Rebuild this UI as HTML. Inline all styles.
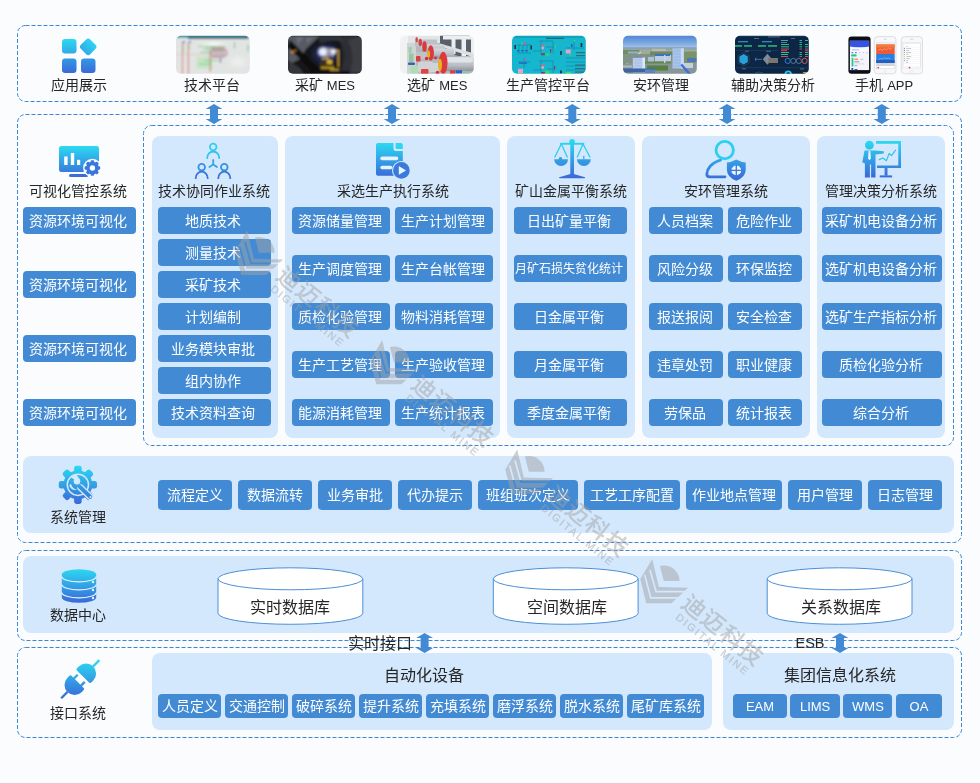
<!DOCTYPE html>
<html lang="zh-CN">
<head>
<meta charset="utf-8">
<title>系统架构</title>
<style>
html,body{margin:0;padding:0;overflow:hidden}
html{width:980px;height:783px}
body{width:980px;height:783px;overflow:hidden;background:#fafcfd;font-family:"Liberation Sans",sans-serif;position:relative}
.p{position:absolute;background:#d4e8fd}
.b{position:absolute;background:#428bd4;color:#fff;font-size:14px;text-align:center;border-radius:4px;white-space:nowrap;overflow:hidden}
.t{position:absolute;color:#262626;font-size:14px;text-align:center;white-space:nowrap}
.l{font-size:13px}
svg.ov{position:absolute;left:0;top:0}
.tx{position:absolute;left:0;top:0;width:980px;height:783px;opacity:.999;overflow:hidden}
</style>
</head>
<body>
<div class="p" style="left:152px;top:136px;width:126px;height:302px;border-radius:8px"></div>
<div class="p" style="left:285px;top:136px;width:215px;height:302px;border-radius:8px"></div>
<div class="p" style="left:507px;top:136px;width:128px;height:302px;border-radius:8px"></div>
<div class="p" style="left:642px;top:136px;width:168px;height:302px;border-radius:8px"></div>
<div class="p" style="left:817px;top:136px;width:128px;height:302px;border-radius:8px"></div>
<div class="p" style="left:23px;top:456px;width:931px;height:77px;border-radius:8px"></div>
<div class="p" style="left:23px;top:556px;width:931px;height:77px;border-radius:8px"></div>
<div class="p" style="left:152px;top:653px;width:560px;height:77px;border-radius:8px"></div>
<div class="p" style="left:723px;top:653px;width:231px;height:77px;border-radius:8px"></div>
<svg class="ov" width="980" height="783" viewBox="0 0 980 783">
<defs>
<linearGradient id="g" x1="0" y1="0" x2="0" y2="1"><stop offset="0" stop-color="#2bd8f2"/><stop offset="1" stop-color="#3a68d8"/></linearGradient>
<linearGradient id="gu" gradientUnits="userSpaceOnUse" x1="0" y1="140" x2="0" y2="180"><stop offset="0" stop-color="#2bd8f2"/><stop offset="1" stop-color="#3a68d8"/></linearGradient>
<linearGradient id="gmon" gradientUnits="userSpaceOnUse" x1="0" y1="146" x2="0" y2="178"><stop offset="0" stop-color="#2bdaf2"/><stop offset="1" stop-color="#3a66d8"/></linearGradient>
<linearGradient id="gdoc" gradientUnits="userSpaceOnUse" x1="0" y1="143" x2="0" y2="178"><stop offset="0" stop-color="#2bdaf2"/><stop offset="1" stop-color="#3a66d8"/></linearGradient>
<linearGradient id="gsc" gradientUnits="userSpaceOnUse" x1="0" y1="140" x2="0" y2="179"><stop offset="0" stop-color="#2bdaf2"/><stop offset="1" stop-color="#3a66d8"/></linearGradient>
<linearGradient id="gps" gradientUnits="userSpaceOnUse" x1="0" y1="141" x2="0" y2="181"><stop offset="0" stop-color="#2bdaf2"/><stop offset="1" stop-color="#3a66d8"/></linearGradient>
<linearGradient id="gpr" gradientUnits="userSpaceOnUse" x1="0" y1="141" x2="0" y2="178"><stop offset="0" stop-color="#2bdaf2"/><stop offset="1" stop-color="#3a66d8"/></linearGradient>
<linearGradient id="gapp" gradientUnits="userSpaceOnUse" x1="0" y1="39" x2="0" y2="74"><stop offset="0" stop-color="#2bdaf2"/><stop offset="1" stop-color="#3a66d8"/></linearGradient>
<linearGradient id="gppl" gradientUnits="userSpaceOnUse" x1="0" y1="143" x2="0" y2="179"><stop offset="0" stop-color="#2bdaf2"/><stop offset="1" stop-color="#3a66d8"/></linearGradient>
<clipPath id="c1"><rect x="176" y="35.800" width="73.800" height="38" rx="5"/></clipPath>
<clipPath id="c2"><rect x="288" y="35.800" width="73.800" height="38" rx="5"/></clipPath>
<clipPath id="c3"><rect x="400" y="35.800" width="73.800" height="38" rx="5"/></clipPath>
<clipPath id="c4"><rect x="512" y="35.800" width="73.800" height="38" rx="5"/></clipPath>
<clipPath id="c5"><rect x="623" y="35.800" width="73.800" height="38" rx="5"/></clipPath>
<clipPath id="c6"><rect x="735" y="35.800" width="73.800" height="38" rx="5"/></clipPath>
<radialGradient id="lamp" cx="0.5" cy="0.5" r="0.5"><stop offset="0" stop-color="#ffffff"/><stop offset="0.25" stop-color="#bcd4ff"/><stop offset="0.6" stop-color="#3a4a78"/><stop offset="1" stop-color="#1a1c24" stop-opacity="0"/></radialGradient>
<linearGradient id="sky" x1="0" y1="0" x2="0" y2="1"><stop offset="0" stop-color="#477fd2"/><stop offset="0.6" stop-color="#78a4e0"/><stop offset="1" stop-color="#a4c4ec"/></linearGradient>
</defs>

<!-- dashed boxes -->
<g fill="none" stroke="#3f87d6" stroke-width="1" stroke-dasharray="4 2">
<rect x="17.5" y="25.5" width="944" height="76" rx="8"/>
<rect x="17.5" y="114.5" width="944" height="428" rx="8"/>
<rect x="143.5" y="125.5" width="810" height="320" rx="8"/>
<rect x="17.5" y="550.5" width="944" height="90" rx="8"/>
<rect x="17.5" y="647.5" width="944" height="90" rx="8"/>
</g>

<!-- arrows -->
<g fill="#428bd4">
<path id="ar" d="M214 104.100 l8.400 4.800 h-4.400 v10.100 h4.400 l-8.400 4.900 l-8.400 -4.900 h4.400 v-10.100 h-4.400 z"/>
<use href="#ar" x="178"/>
<use href="#ar" x="358.300"/>
<use href="#ar" x="513"/>
<use href="#ar" x="667.800"/>
<use href="#ar" x="210.6" y="529"/>
<use href="#ar" x="626" y="529"/>
</g>

<!-- cylinders -->
<g fill="#fff" stroke="#4a8fd8" stroke-width="1">
<path id="cy" d="M218 578.8 a72.4 11 0 0 1 144.8 0 v34.5 a72.4 11 0 0 1 -144.8 0 z"/>
<path id="cz" d="M218 578.8 a72.4 11 0 0 0 144.8 0" fill="none"/>
<use href="#cy" x="275.3"/><use href="#cz" x="275.3"/>
<use href="#cy" x="549.2"/><use href="#cz" x="549.2"/>
</g>

<!-- icon: app grid -->
<g fill="url(#gapp)">
<rect x="62" y="39" width="14.5" height="14.5" rx="3.2"/>
<rect x="81.600" y="40.200" width="13.200" height="13.200" rx="2.800" transform="rotate(45 88.2 46.8)"/>
<rect x="62" y="58.5" width="14.5" height="14.5" rx="3.2"/>
<rect x="81" y="58.5" width="14.5" height="14.5" rx="3.2"/>
</g>

<!-- icon: monitor -->
<g>
<rect x="59" y="146" width="40" height="26" rx="2.5" fill="url(#gmon)"/>
<rect x="69" y="174" width="19" height="3" rx="1.5" fill="#3a6cdc"/>
<rect x="64.2" y="156.5" width="3.4" height="8.5" fill="#fff"/>
<rect x="70.8" y="153" width="3.4" height="12" fill="#fff"/>
<rect x="77" y="159.8" width="3.2" height="5.2" fill="#fff"/>
<circle cx="92.4" cy="168" r="9.3" fill="#fafcfd"/>
<g fill="#3a76dc">
<circle cx="92.4" cy="168" r="6.300"/>
<g id="gt"><rect x="90.600" y="160.200" width="3.600" height="15.600" rx="1.2"/></g>
<use href="#gt" transform="rotate(45 92.4 168)"/>
<use href="#gt" transform="rotate(90 92.4 168)"/>
<use href="#gt" transform="rotate(135 92.4 168)"/>
</g>
<circle cx="92.4" cy="168" r="2.700" fill="#fafcfd"/>
</g>

<!-- icon: people -->
<g fill="none" stroke-width="1.8" stroke-linecap="round">
<circle cx="213.2" cy="147" r="3.3" stroke="#2fd0ef"/>
<path d="M207.2 158 a6 6.5 0 0 1 12 0" stroke="#2fc6ee"/>
<path d="M213.2 160 v4.4 l-3.8 2.7 M213.2 164.4 l3.8 2.7" stroke="#30a8e8"/>
<circle cx="201.7" cy="167.2" r="3.3" stroke="#3592e2"/>
<path d="M195.7 178.2 a6 6.5 0 0 1 12 0" stroke="#3a74dc"/>
<circle cx="224.3" cy="167.2" r="3.3" stroke="#3592e2"/>
<path d="M218.3 178.2 a6 6.5 0 0 1 12 0" stroke="#3a74dc"/>
</g>

<!-- icon: doc+play -->
<g>
<path d="M378 143 h15.5 v5.5 a2.5 2.5 0 0 0 2.5 2.5 h6.8 v22.7 a2 2 0 0 1 -2 2 h-22.8 a2 2 0 0 1 -2 -2 v-28.7 a2 2 0 0 1 2 -2 z" fill="url(#gdoc)"/>
<path d="M395.6 143 h5.2 a2 2 0 0 1 2 2 v4 h-5.7 a1.5 1.5 0 0 1 -1.5 -1.5 z" fill="#2dd6f2"/>
<rect x="380.3" y="156.6" width="18" height="3.6" rx="1.8" fill="#e6f2fe"/>
<rect x="380.3" y="165.8" width="12" height="3.5" rx="1.75" fill="#e6f2fe"/>
<circle cx="401.4" cy="170.4" r="9.4" fill="#d4e8fd"/>
<circle cx="401.4" cy="170.4" r="8.3" fill="#3a7adc"/>
<path d="M398.8 166 v8.8 l7.2 -4.4 z" fill="#eaf3ff"/>
</g>

<!-- icon: scales -->
<g fill="url(#gsc)" stroke="none">
<rect x="570.3" y="140.5" width="3.7" height="34.5"/>
<circle cx="572.1" cy="141.8" r="2.8"/>
<rect x="560.2" y="142.8" width="24" height="1.9"/>
<path d="M572.1 173.5 L585 177.2 q0.6 1 -0.6 1 h-24.6 q-1.2 0 -0.6 -1 z"/>
<path d="M554.2 159.2 h13.8 a6.9 6.9 0 0 1 -13.8 0 z"/>
<path d="M577 159.2 h13.8 a6.9 6.9 0 0 1 -13.8 0 z"/>
<circle cx="560.5" cy="158.8" r="1.8"/>
<rect x="583.2" y="155.8" width="1.2" height="3.4"/>
</g>
<g fill="none" stroke="#2ccdf0" stroke-width="1.3" stroke-linecap="round">
<path d="M561.3 144 L554.8 157 M561.3 144 L567.3 157"/>
<path d="M583 144 L577.3 157 M583 144 L589.9 157"/>
</g>

<!-- icon: person + shield -->
<g>
<circle cx="724.7" cy="150.1" r="8.7" fill="none" stroke="#2ccff0" stroke-width="2.8"/>
<path d="M720.5 160.2 C711 163 707 169 706.8 174 q0 2.8 2.8 2.8 H725" fill="none" stroke="url(#gps)" stroke-width="2.8" stroke-linecap="round"/>
<path d="M736.3 159.6 q4.6 2.6 9.4 2.9 v7.5 q0 7 -9.4 10.8 q-9.4 -3.8 -9.4 -10.8 v-7.5 q4.8 -0.3 9.4 -2.9 z" fill="url(#gps)"/>
<circle cx="736.3" cy="170.4" r="4.9" fill="#eef5ff"/>
<path d="M736.3 165 v10.8 M730.9 170.4 h10.8" stroke="#3a76dc" stroke-width="1.3"/>
</g>

<!-- icon: presenter -->
<g fill="url(#gpr)">
<circle cx="869.4" cy="145.2" r="4.4"/>
<path d="M864.5 150.6 h11 l8.3 0.6 v2.2 l-8.3 1.2 v22.8 h-4.4 v-13 h-1.2 v13 h-5 v-14 l-2.6 -1.2 z"/>
<path d="M876 141 h25 v27 h-24 v-2.6 h21.3 v-21.7 h-22.3 z"/>
<rect x="884.6" y="168" width="2.9" height="7.6"/>
<rect x="879.7" y="175.4" width="12.4" height="2"/>
</g>
<path d="M868.6 151 h1.7 l0.6 7.6 l-1.4 1.6 l-1.4 -1.6 z" fill="#eaf4ff"/>
<path d="M879.3 159.6 L882.8 158 L886.4 160.7 L889.2 153.4 L891.5 155.7 L895.6 150.2" fill="none" stroke="#2cc4ee" stroke-width="1.2" stroke-linejoin="round" stroke-linecap="round"/>

<defs><linearGradient id="gg" gradientUnits="userSpaceOnUse" x1="0" y1="466" x2="0" y2="504"><stop offset="0" stop-color="#2bd8f2"/><stop offset="1" stop-color="#3a68d8"/></linearGradient>
<linearGradient id="gd" gradientUnits="userSpaceOnUse" x1="0" y1="569" x2="0" y2="603"><stop offset="0" stop-color="#2bd8f2"/><stop offset="1" stop-color="#3a68d8"/></linearGradient>
<linearGradient id="gp" gradientUnits="userSpaceOnUse" x1="0" y1="661" x2="0" y2="698"><stop offset="0" stop-color="#2bd8f2"/><stop offset="1" stop-color="#3a68d8"/></linearGradient>
</defs>
<!-- icon: gear + wrench -->
<g>
<circle cx="77.9" cy="484.8" r="14.4" fill="url(#gg)"/>
<g fill="url(#gg)" stroke="url(#gg)" stroke-width="4.8" stroke-linejoin="round"><path d="M61.20 483.40 L94.60 483.40 L94.60 486.20 L61.20 486.20 Z"/><path d="M67.08 472.00 L90.70 495.62 L88.72 497.60 L65.10 473.98 Z"/><path d="M79.30 468.10 L79.30 501.50 L76.50 501.50 L76.50 468.10 Z"/><path d="M90.70 473.98 L67.08 497.60 L65.10 495.62 L88.72 472.00 Z"/></g>
<circle cx="77.9" cy="484.8" r="10.6" fill="none" stroke="#d4e8fd" stroke-width="1.5"/>
<path d="M80.500 487.500 L90.300 496.900" stroke="#d4e8fd" stroke-width="6.600" stroke-linecap="round"/>
<path d="M79 486 L90.300 496.900" stroke="url(#gg)" stroke-width="3.900" stroke-linecap="round"/>
<circle cx="90.500" cy="497.100" r="1.050" fill="#d4e8fd"/>
<path d="M71 483.800 q1.200 5.600 6.600 6 q-6.500 1.500 -8.400 -4.500 z" fill="#d4e8fd"/>
<circle cx="77" cy="481.300" r="3.300" fill="#d4e8fd"/>
<path d="M74.300 479.400 L70.500 477 L76.500 474.400 L79.300 478.900 Z" fill="#d4e8fd"/>
</g>

<!-- icon: database -->
<g>
<path d="M61.8 574.5 a17.2 5.3 0 0 1 34.4 0 v23 a17.2 5.3 0 0 1 -34.4 0 z" fill="url(#gd)"/>
<g fill="none" stroke="#e4f1ff" stroke-width="1.2">
<path d="M61.8 576.5 a17.2 5.3 0 0 0 34.4 0"/>
<path d="M61.8 584.5 a17.2 5.3 0 0 0 34.4 0"/>
<path d="M61.8 592.5 a17.2 5.3 0 0 0 34.4 0"/>
</g>
<circle cx="93" cy="582" r="1.2" fill="#eaf4ff"/>
<circle cx="93" cy="590" r="1.2" fill="#eaf4ff"/>
<circle cx="93" cy="598" r="1.2" fill="#eaf4ff"/>
</g>

<!-- icon: plug -->
<g fill="url(#gp)">
<path d="M76.91 670.43 Q75.85 669.37 76.91 668.31 L79.03 666.19 A10.1 10.1 0 0 1 93.31 680.47 L91.19 682.59 Q90.13 683.65 89.07 682.59 Z"/>
<path d="M92.21 665.66 L98.58 659.29 L100.21 660.92 L93.84 667.29 Z"/>
<path d="M71.53 675.81 Q70.47 674.75 69.41 675.81 L67.29 677.93 A10.1 10.1 0 0 0 81.57 692.21 L83.69 690.09 Q84.75 689.03 83.69 687.97 Z"/>
<path d="M60.39 697.48 L66.76 691.11 L68.39 692.74 L62.02 699.11 Z"/>
<path d="M73.09 677.64 L76.84 673.90 L78.53 675.59 L74.78 679.34 Z"/>
<path d="M80.16 684.72 L83.91 680.97 L85.60 682.66 L81.86 686.41 Z"/>
</g>

<!-- thumbnails -->
<defs>
<filter id="bl" x="-5%" y="-5%" width="110%" height="110%"><feGaussianBlur stdDeviation="0.6"/></filter>
<filter id="bl9" x="-5%" y="-5%" width="110%" height="110%"><feGaussianBlur stdDeviation="0.9"/></filter>
<filter id="bl2" x="-5%" y="-5%" width="110%" height="110%"><feGaussianBlur stdDeviation="1.1"/></filter>
<radialGradient id="glare" cx="0.5" cy="0.5" r="0.5"><stop offset="0" stop-color="#ffffff" stop-opacity=".95"/><stop offset="1" stop-color="#ffffff" stop-opacity="0"/></radialGradient>
<radialGradient id="glow" cx="0.5" cy="0.5" r="0.5"><stop offset="0" stop-color="#5a68a8"/><stop offset="0.5" stop-color="#20264a"/><stop offset="1" stop-color="#15161a" stop-opacity="0"/></radialGradient>
<linearGradient id="mill" x1="0" y1="0" x2="0" y2="1"><stop offset="0" stop-color="#d6d9dd"/><stop offset="0.6" stop-color="#b9bdc3"/><stop offset="1" stop-color="#8d9298"/></linearGradient>
</defs>
<!-- thumb1 -->
<g clip-path="url(#c1)"><g filter="url(#bl9)">
<rect x="174" y="34" width="78" height="42" fill="#e1e4e2"/>
<ellipse cx="214" cy="45" rx="14" ry="4.5" fill="url(#glare)"/>
<ellipse cx="238" cy="62" rx="12" ry="8" fill="url(#glare)" opacity=".5"/>
<rect x="196.500" y="57" width="16" height="11.500" fill="#c4e2c2" opacity=".9"/>
<rect x="206" y="45.500" width="20" height="12" fill="#d6ddd8"/>
<path d="M182.500 42 V75 M188.400 42 V75" stroke="#df7070" stroke-width="1.100"/>
<path d="M210.300 50 V72" stroke="#d06058" stroke-width="1"/>
<path d="M183 43 v10 M189 44 v6" stroke="#78c880" stroke-width=".7"/>
<path d="M198 46.500 h26 M203 49 h22 M200 52.500 h25 M204 60.500 h18 M199 64 h12" stroke="#62cc7a" stroke-width=".8"/>
<path d="M211 48 h14 M211 51 h15 M210 54.500 h16 M212 57.500 h12" stroke="#e04c5e" stroke-width=".8"/>
<path d="M212 49.700 h12 M212 56 h13" stroke="#5a8ad8" stroke-width=".7"/>
<path d="M226 49 q2.500 3.500 0 7.500" stroke="#c050b0" stroke-width=".8" fill="none"/>
<path d="M220.500 58 v5" stroke="#7a50c0" stroke-width="1"/>
<path d="M234.500 42 v6.500 M248 45 v6.500" stroke="#6cc47a" stroke-width="1"/>
<path d="M176 54.500 h30" stroke="#e0b0a0" stroke-width=".5"/>
<rect x="182.800" y="41" width="2" height="2" fill="#4a80d8"/><rect x="189" y="41" width="2" height="2" fill="#4a80d8"/>
<rect x="174" y="34" width="78" height="3.600" fill="#2a8aa0"/>
<rect x="188" y="37.300" width="60" height="1.700" fill="#2a3034" opacity=".8"/>
</g></g>
<!-- thumb2 -->
<g clip-path="url(#c2)"><g filter="url(#bl9)">
<rect x="286" y="34" width="78" height="42" fill="#141518"/>
<path d="M288 36 h32 l-14 13 l-6 10 l-12 6 z" fill="#565a62"/>
<path d="M296 37 l8 0 l-6 8 z M306 38 l8 -1 l-7 7 z" fill="#6a6e76"/>
<path d="M288 60 l12 8 l4 6 h-16 z" fill="#34363b"/>
<path d="M290 40 l34 34 h-9 l-27 -27 z" fill="#08090b"/>
<path d="M338 36 h24 v38 h-22 q6 -20 -2 -38 z" fill="#2e2f34"/>
<path d="M348 40 q8 16 2 32 h12 v-36 z" fill="#3a3c42"/>
<path d="M318 36 h22 l4 6 q-12 -4 -24 2 z" fill="#33353a"/>
<ellipse cx="326" cy="54" rx="21" ry="15" fill="url(#glow)"/>
<ellipse cx="327" cy="52" rx="9" ry="4.500" fill="#aebcf0" opacity=".55"/>
<rect x="320" y="62" width="14" height="8" fill="#3a3418"/>
<rect x="327" y="60" width="5" height="4" fill="#d8b02a"/>
<rect x="322" y="58" width="7" height="1.400" fill="#d9a520"/>
<rect x="321" y="66.800" width="13" height="1.800" fill="#c89a20"/>
<rect x="330" y="69" width="9" height="1.600" fill="#c8a030"/>
<path d="M326.500 50.700 H338.300 V67" fill="none" stroke="#dba828" stroke-width="1.300"/>
<path d="M327 51 V58 M332.500 52 V57" stroke="#c89820" stroke-width="1"/>
<circle cx="322.900" cy="51.700" r="3.200" fill="#ffffff"/>
<circle cx="322.900" cy="51.700" r="5" fill="#d4e2ff" opacity=".5"/>
<circle cx="333.300" cy="51.700" r="2.100" fill="#f4f8ff"/>
<circle cx="333.300" cy="51.700" r="3.400" fill="#d4e2ff" opacity=".4"/>
<circle cx="292.500" cy="52" r="1.400" fill="#e09030"/><circle cx="295.500" cy="50.600" r="1" fill="#d88428"/>
<rect x="310" y="71" width="40" height="4" fill="#101114"/>
</g></g>
<!-- thumb3 -->
<g clip-path="url(#c3)"><g filter="url(#bl)">
<rect x="398" y="34" width="78" height="42" fill="#b4b9bd"/>
<rect x="398" y="34" width="11" height="42" fill="#f0f2f2"/>
<rect x="408" y="34" width="34" height="9" fill="#e2e5e5"/>
<rect x="407" y="43" width="9" height="31" fill="#cfd4d4"/>
<rect x="440" y="34" width="36" height="22" fill="#59606a"/>
<path d="M443 36 h33 v3.500 h-33 z M451.500 36 h4 v18 h-4 z M461.500 36 h4.500 v20 h-4.500 z M471 36 h5 v22 h-5 z" fill="#eceef0"/>
<path d="M440 43.500 l36 10.500 v4 l-36 -11.500 z" fill="#dde0e3"/>
<path d="M440 49 l34 13 h-34 z" fill="#9aa0a6"/>
<rect x="415" y="39.500" width="22" height="7" fill="#bcc1c6"/>
<rect x="421" y="44.500" width="24" height="8.500" rx="2" fill="url(#mill)"/>
<rect x="431" y="48.500" width="23" height="10" rx="2" fill="url(#mill)"/>
<rect x="416" y="52" width="12" height="7" fill="#bfc3c8"/>
<rect x="418" y="61.500" width="15" height="11" rx="2" fill="#cfd2d6"/>
<rect x="431" y="63" width="8" height="9" fill="#d0d3d7"/>
<rect x="444" y="56.800" width="30.500" height="14.500" rx="4" fill="url(#mill)"/>
<rect x="446" y="57.500" width="27" height="5" rx="2.500" fill="#e6e8ec" opacity=".8"/>
<ellipse cx="443.200" cy="63" rx="4.300" ry="11.200" fill="#dc383c"/>
<ellipse cx="440" cy="65" rx="2" ry="6.200" fill="#e4b420"/>
<ellipse cx="430.800" cy="53" rx="3.100" ry="7.700" fill="#dc383c"/>
<ellipse cx="428.700" cy="54" rx="1.400" ry="3.800" fill="#e2b220"/>
<ellipse cx="424.500" cy="46.500" rx="2.300" ry="5.200" fill="#d83a3e"/>
<ellipse cx="420.300" cy="42.500" rx="1.700" ry="3.700" fill="#d44246"/>
<ellipse cx="416.700" cy="39.600" rx="1.300" ry="2.700" fill="#d04c50"/>
<rect x="416" y="56" width="4.500" height="5.500" rx="1" fill="#dc3e42"/>
<circle cx="426.600" cy="58.500" r="1.700" fill="#d82a32"/>
<circle cx="435.500" cy="58" r="1.400" fill="#d82a32"/>
<rect x="421" y="69" width="7.500" height="5" rx="1" fill="#e2423c"/>
<circle cx="437.500" cy="72.500" r="1.800" fill="#dc2e36"/>
<rect x="450" y="70.300" width="5" height="3.500" fill="#de3c3c"/>
<rect x="455.500" y="70.300" width="6.500" height="3.200" fill="#2c60c8"/>
<rect x="463" y="70.800" width="4" height="2.600" fill="#8ac8a0"/>
<rect x="408.500" y="47" width="3.200" height="6" fill="#a4cab0"/>
<rect x="409" y="53.500" width="4.500" height="8.500" fill="#98c6a2"/>
<rect x="410.500" y="65.500" width="7.500" height="8.500" fill="#b0dab8"/>
<rect x="408" y="62.500" width="7" height="2.600" rx="1" fill="#3a5eb0"/>
</g></g>
<!-- thumb4 -->
<g clip-path="url(#c4)"><g filter="url(#bl)">
<rect x="510" y="34" width="78" height="42" fill="#12b6ce"/>
<rect x="510" y="34" width="78" height="4" fill="#10a4bc"/>
<g fill="none" stroke="#1a7f9c" stroke-width=".7" opacity=".85">
<path d="M517 45 h14 M519 45 v8 M523 45 v8 M527 45 v8 M517 53 h14"/>
<path d="M539 41 h14 v12 M541 41 v14 M546 47 h8 M533 51 h8"/>
<path d="M539 61 h14 v12 M541 61 v12 M533 70 h8 M547 69 h8"/>
<path d="M566 48 h18 M574 40 v10 M566 58 h20 M566 62 h20 M566 66 h20 M566 70 h20"/>
<path d="M518 62 h12 M524 58 v10"/>
</g>
<g fill="#23323e"><rect x="514.400" y="45" width="1.600" height="4"/><rect x="530.400" y="45.500" width="1.600" height="4"/><rect x="560.200" y="51" width="1.600" height="4"/><rect x="580.600" y="43" width="1.700" height="4"/><rect x="560" y="70.500" width="1.800" height="3"/><rect x="546" y="37.800" width="18" height="1" opacity=".7"/></g>
<g fill="#e9a2c4"><rect x="518" y="68.800" width="5" height="4.500"/><rect x="565.700" y="49.500" width="5" height="4"/><rect x="541" y="44.500" width="4" height="1.400" fill="#d86a78"/><rect x="541" y="64" width="4" height="1.400" fill="#d86a78"/><circle cx="542.700" cy="48" r="1.400"/><circle cx="542.700" cy="67.500" r="1.400"/></g>
<g fill="#d848d8"><rect x="523.500" y="42.800" width="2.600" height="2"/><rect x="524" y="58.500" width="2" height="1.600"/></g>
<g fill="#42d860"><rect x="545.300" y="53.600" width="4" height="1.900"/><rect x="545.300" y="70.600" width="4" height="3"/><rect x="565.700" y="72" width="5.500" height="2"/><rect x="521.200" y="42.600" width="1.800" height="1.800"/><rect x="555" y="45.500" width="1" height="3"/><rect x="573.500" y="40" width="2" height="1.400"/><rect x="569.500" y="54" width="2" height="1.500"/></g>
<g fill="#2a58d0"><rect x="517" y="50" width="2.400" height="1.300"/><rect x="521" y="50" width="2.400" height="1.300"/><rect x="525" y="50" width="2.400" height="1.300"/><rect x="519" y="62.500" width="8" height="1.200"/><rect x="571" y="44" width="1.500" height="3"/></g>
<g fill="#8a3a58"><rect x="541.200" y="53.200" width="3.600" height="2"/><rect x="541.200" y="72" width="3.600" height="2"/><rect x="550" y="49" width="1.200" height="3.500"/><rect x="554" y="66" width="1.200" height="3.500"/></g>
<g fill="#3c5a6a" opacity=".8"><rect x="576" y="52" width="9" height="1.200"/><rect x="576" y="55" width="9" height="1.200"/><rect x="575" y="64.500" width="10" height="1.200"/><rect x="575" y="68" width="10" height="1.200"/><rect x="575" y="71.500" width="10" height="1.200"/></g>
</g></g>
<!-- thumb5 -->
<g clip-path="url(#c5)"><g filter="url(#bl)">
<rect x="621" y="34" width="78" height="42" fill="#889a86"/>
<rect x="621" y="34" width="78" height="14" fill="url(#sky)"/>
<rect x="621" y="47.200" width="78" height="2.600" fill="#8aa0b4"/>
<rect x="621" y="49.500" width="78" height="4.500" fill="#a0ac98"/>
<rect x="652" y="48.800" width="14" height="2.600" fill="#bcb8a8"/>
<path d="M621 50 h19 l-13 16 h-6 z" fill="#728e5c"/>
<path d="M641 52 l-17 14" stroke="#cdd4d0" stroke-width="1.200"/>
<rect x="628" y="51.500" width="10" height="2" fill="#8fb0dc"/>
<rect x="621" y="54" width="78" height="9" fill="#7f9486"/>
<rect x="650" y="51.500" width="24" height="4" fill="#6a8a62"/>
<rect x="655" y="55" width="16" height="6.500" fill="#bccbe0"/>
<rect x="655" y="54" width="15" height="2" fill="#3a70c8"/>
<rect x="648" y="57" width="6" height="5" fill="#aebfd8"/>
<rect x="644" y="61.500" width="27" height="3" fill="#64864f"/>
<rect x="621" y="63.500" width="78" height="11" fill="#879698"/>
<rect x="647" y="65.500" width="21" height="5" fill="#55803f"/>
<rect x="621" y="65.500" width="11" height="2" fill="#b0bab6"/>
<rect x="684" y="51.500" width="15" height="11" fill="#78926a"/>
<rect x="687" y="58" width="11" height="4" fill="#4f76b8"/>
<rect x="684" y="63" width="9" height="5" fill="#c6ced8"/>
<rect x="632.800" y="56.700" width="12.200" height="16" fill="#b9cdeb"/>
<rect x="632.800" y="56.500" width="12.200" height="1.200" fill="#707c88"/>
<rect x="642.500" y="57.500" width="2.500" height="15" fill="#dce8f6"/>
<path d="M634.500 60 h7 M634.500 63 h7 M634.500 66 h7 M634.500 69 h7" stroke="#9cb4dc" stroke-width=".6"/>
<rect x="672.500" y="48.300" width="11.300" height="20.200" fill="#a9c3ec"/>
<rect x="681" y="48.300" width="2.800" height="20.200" fill="#c9daf2"/>
<path d="M674 51 h6 M674 54 h6 M674 57 h6 M674 60 h6 M674 63 h6 M674 66 h6" stroke="#8eaee0" stroke-width=".6"/>
<rect x="623" y="68.500" width="32" height="4" fill="#3f64a4"/>
<rect x="645" y="69.500" width="10" height="3" fill="#5f84c4"/>
<path d="M681.300 64.600 L690.500 75" stroke="#3a70d4" stroke-width="2.300"/>
<rect x="664" y="55" width="1.400" height="8" fill="#ccd4e0"/>
</g></g>
<!-- thumb6 -->
<g clip-path="url(#c6)"><g filter="url(#bl)">
<rect x="733" y="34" width="78" height="42" fill="#0c2745"/>
<rect x="733" y="34" width="78" height="3" fill="#123252"/>
<rect x="736" y="50" width="42" height=".6" fill="#1c4468"/>
<rect x="736" y="67.500" width="72" height=".6" fill="#1c4468"/>
<path d="M743.600 53.900 l4.200 2.500 v5.600 l-4.200 2.600 l-4.200 -2.600 v-5.600 z" fill="#2aa0da"/>
<path d="M743.600 52.500 l5.500 3.200 v7 l-5.500 3.300 l-5.500 -3.300 v-7 z" fill="none" stroke="#3a5a78" stroke-width=".5"/>
<path d="M767.400 53.700 l4.600 5.500 l-4.600 5.500 l-4.600 -5.500 z" fill="#7f8c98"/>
<rect x="768.300" y="58" width="9.700" height="5" fill="#7c746a"/>
<rect x="755" y="58.800" width="7" height="1" fill="#4a7090"/>
<rect x="755" y="57.800" width="1.200" height="3" fill="#2a80b8"/>
<g fill="none" stroke-width="1">
<circle cx="787.700" cy="60.900" r="2.600" stroke="#2a7fd8"/><circle cx="793.300" cy="60.900" r="2.600" stroke="#54708e"/><circle cx="798.900" cy="60.900" r="2.600" stroke="#54708e"/><circle cx="804.600" cy="60.900" r="2.600" stroke="#c8604a"/>
</g>
<g fill="#2ebc80"><rect x="735" y="45.200" width="7" height="1.500"/><rect x="744" y="45.200" width="8" height="1.500"/><rect x="758" y="45.200" width="8" height="1.500"/><rect x="768" y="45.200" width="9" height="1.500"/>
<rect x="781" y="40" width="7" height="1"/><rect x="781" y="44" width="8" height="1"/><rect x="781" y="46.300" width="8" height="1"/><rect x="781" y="52" width="8" height="1"/><rect x="781" y="54" width="7" height="1"/>
<rect x="799.500" y="40" width="2.500" height="1"/><rect x="799.500" y="42" width="2.500" height="1"/><rect x="799.500" y="44" width="2.500" height="1"/><rect x="799.500" y="46.300" width="2.500" height="1"/><rect x="799.500" y="52" width="2.500" height="1"/><rect x="799.500" y="54" width="2.500" height="1"/>
<rect x="805" y="40" width="3" height="1"/><rect x="805" y="44" width="3" height="1"/><rect x="805" y="46.300" width="3" height="1"/><rect x="805" y="52" width="3" height="1"/><rect x="805" y="54" width="3" height="1"/></g>
<g fill="#d24a5c"><rect x="781" y="48.500" width="8" height="1"/><rect x="781" y="50.200" width="6" height="1"/><rect x="781" y="56" width="7" height="1"/><rect x="799.500" y="48.500" width="2.500" height="1"/><rect x="799.500" y="56" width="2.500" height="1"/><rect x="805" y="48.500" width="3" height="1"/><rect x="805" y="50.200" width="3" height="1"/><rect x="805" y="56" width="3" height="1"/></g>
<g fill="#2a8cc0"><rect x="738" y="41" width="10" height="1.300"/><rect x="762" y="41" width="10" height="1.300"/><rect x="781" y="42" width="6" height="1" fill="#7a60c0"/></g>
<g fill="#8aa0b8" opacity=".7"><rect x="754" y="38" width="5" height=".8"/><rect x="768" y="36.500" width="12" height=".8"/><rect x="791" y="38" width="4" height=".8"/><rect x="745" y="50.800" width="4" height=".8"/><rect x="766" y="50.800" width="5" height=".8"/><rect x="742" y="68.500" width="4" height=".8"/><rect x="800" y="68.500" width="4" height=".8"/></g>
<circle cx="788.200" cy="74.200" r="2.800" fill="none" stroke="#22c4f2" stroke-width="1.700"/>
<rect x="803" y="72" width="5" height="1.200" fill="#c8a020"/>
<path d="M755 73 q4 -2 8 0" stroke="#1a6a98" stroke-width=".6" fill="none"/>
</g></g>
<!-- phones -->
<g filter="url(#bl)">
<rect x="848.400" y="36.600" width="22.200" height="37.200" rx="3.200" fill="#111114"/>
<rect x="849.900" y="40.800" width="19.200" height="29.300" fill="#f3f5fa"/>
<path d="M849.900 40.800 h19.200 v5.600 q-9.600 2 -19.200 0 z" fill="#3452e6"/>
<rect x="851.500" y="47.500" width="16" height="5.500" rx="1" fill="#fafbff"/>
<rect x="852" y="49.300" width="7" height="1.200" fill="#b4c4f0"/>
<g fill="#5a78e8"><rect x="851.500" y="52" width="1.800" height="1.200"/><rect x="855" y="52" width="1.800" height="1.200"/></g>
<g fill="#c8d0ec"><rect x="858.700" y="52" width="1.600" height="1.200"/><rect x="862.500" y="52" width="1.600" height="1.200"/><rect x="866" y="52" width="1.600" height="1.200"/></g>
<rect x="851" y="54.200" width="5.600" height="2.400" rx="1.200" fill="#28c890"/>
<rect x="851.600" y="57.500" width="1.800" height="9.200" rx=".9" fill="#28c890"/>
<rect x="854.300" y="58.600" width="3.800" height="1.500" rx=".5" fill="#f09a5a"/>
<rect x="860" y="58.800" width="3.500" height="1" fill="#c4c8d4"/>
<rect x="854.300" y="61.300" width="5" height="1" fill="#8a90a8"/>
<rect x="854.300" y="63.500" width="10" height=".8" fill="#d4d8e4"/>
<rect x="854.300" y="65.300" width="3" height=".8" fill="#8aa0e8"/>
<rect x="851.300" y="68" width="2" height="2.100" fill="#3a50e0"/>
<rect x="854.500" y="69" width="3" height="1.100" fill="#5a5a8a"/>
<rect x="874.300" y="36.600" width="21.700" height="37.200" rx="3.200" fill="#f8f8fa" stroke="#d2d2d8" stroke-width=".7"/>
<rect x="876.200" y="42.500" width="18.400" height="26.300" fill="#fff" stroke="#c4c4cc" stroke-width=".4"/>
<rect x="876.200" y="42.500" width="18.400" height="2" fill="#eef0f2"/>
<rect x="876.200" y="44.500" width="18.400" height="9.500" fill="#f05a30"/>
<rect x="876.200" y="44.500" width="18.400" height="3" fill="#f27a3a"/>
<rect x="876.200" y="54" width="18.400" height="9" fill="#2a7ee2"/>
<rect x="876.200" y="60" width="18.400" height="3" fill="#2060c0"/>
<path d="M878.500 50 l2 -1 l2 1.200 l2 -1.500 l2 1 l2 -1.600 l2 1.200 l1.500 -1" stroke="#ffc4a8" stroke-width=".6" fill="none"/>
<path d="M878.500 59.500 l2 -1 l2 .6 l2 -1.400 l2 1 l2 -.8 l2 1.200" stroke="#9cc8ff" stroke-width=".6" fill="none"/>
<rect x="876.200" y="63" width="18.400" height="3" fill="#d4d6dc"/>
<circle cx="878.300" cy="67.600" r=".9" fill="#f0305a"/>
<rect x="883.500" y="38.800" width="3.500" height=".8" rx=".4" fill="#c8c8d0"/>
<circle cx="885.200" cy="71.300" r="1.200" fill="none" stroke="#d4d4da" stroke-width=".4"/>
<rect x="901.300" y="36.600" width="21.200" height="37.200" rx="3.200" fill="#f8f8fa" stroke="#d2d2d8" stroke-width=".7"/>
<rect x="903" y="42.500" width="17.600" height="26.300" fill="#fff" stroke="#c4c4cc" stroke-width=".4"/>
<rect x="903" y="42.500" width="17.600" height="1.600" fill="#eef0f2"/>
<g><circle cx="904.400" cy="48.400" r=".6" fill="#3aa0f0"/><circle cx="904.400" cy="50.400" r=".6" fill="#f04a3a"/><circle cx="904.400" cy="52.400" r=".6" fill="#3ad0b0"/><circle cx="904.400" cy="54.500" r=".6" fill="#9a9aa8"/><circle cx="904.400" cy="56.500" r=".6" fill="#f0c83a"/><circle cx="904.400" cy="58.500" r=".6" fill="#f0a03a"/><circle cx="904.400" cy="60.500" r=".6" fill="#4a8af0"/></g>
<g fill="#b0b4c0"><rect x="906.200" y="46" width="1.500" height=".7"/><rect x="906.200" y="48.100" width="5" height=".7"/><rect x="906.200" y="50.100" width="3" height=".7"/><rect x="906.200" y="52.100" width="5" height=".7"/><rect x="906.200" y="54.200" width="2" height=".7"/><rect x="906.200" y="56.200" width="5" height=".7"/><rect x="906.200" y="58.200" width="3.500" height=".7"/><rect x="906.200" y="60.200" width="2" height=".7"/><rect x="906.200" y="62.200" width="2" height=".7"/></g>
<g stroke="#e8e8ee" stroke-width=".3"><path d="M903 47.300 h17.600 M903 49.300 h17.600 M903 51.300 h17.600 M903 53.400 h17.600 M903 55.400 h17.600 M903 57.400 h17.600 M903 59.400 h17.600 M903 61.400 h17.600 M903 63.400 h17.600"/></g>
<rect x="903" y="66.300" width="17.600" height="2.500" fill="#f4f4f8"/>
<circle cx="909.500" cy="67.600" r=".9" fill="#f0305a"/>
<rect x="910" y="38.800" width="3.500" height=".8" rx=".4" fill="#c8c8d0"/>
<circle cx="911.800" cy="71.300" r="1.200" fill="none" stroke="#d4d4da" stroke-width=".4"/>
</g>
</svg>

<div class="tx">
<div class="t" style="left:-1.7px;top:180.5px;width:160px;height:20px;line-height:20px">可视化管控系统</div>
<div class="t" style="left:133.5px;top:180.5px;width:160px;height:20px;line-height:20px">技术协同作业系统</div>
<div class="t" style="left:313.2px;top:180.5px;width:160px;height:20px;line-height:20px">采选生产执行系统</div>
<div class="t" style="left:491px;top:180.5px;width:160px;height:20px;line-height:20px">矿山金属平衡系统</div>
<div class="t" style="left:645.5px;top:180.5px;width:160px;height:20px;line-height:20px">安环管理系统</div>
<div class="t" style="left:800.7px;top:180.5px;width:160px;height:20px;line-height:20px">管理决策分析系统</div>
<div class="b" style="left:23px;top:207px;height:27px;line-height:28.5px;width:109px;padding-right:4px">资源环境可视化</div>
<div class="b" style="left:23px;top:271px;height:27px;line-height:28.5px;width:109px;padding-right:4px">资源环境可视化</div>
<div class="b" style="left:23px;top:335px;height:27px;line-height:28.5px;width:109px;padding-right:4px">资源环境可视化</div>
<div class="b" style="left:23px;top:399px;height:27px;line-height:28.5px;width:109px;padding-right:4px">资源环境可视化</div>
<div class="b" style="left:158px;top:207px;height:27px;line-height:28.5px;width:109px;padding-right:4px">地质技术</div>
<div class="b" style="left:158px;top:239px;height:27px;line-height:28.5px;width:109px;padding-right:4px">测量技术</div>
<div class="b" style="left:158px;top:271px;height:27px;line-height:28.5px;width:109px;padding-right:4px">采矿技术</div>
<div class="b" style="left:158px;top:303px;height:27px;line-height:28.5px;width:109px;padding-right:4px">计划编制</div>
<div class="b" style="left:158px;top:335px;height:27px;line-height:28.5px;width:109px;padding-right:4px">业务模块审批</div>
<div class="b" style="left:158px;top:367px;height:27px;line-height:28.5px;width:109px;padding-right:4px">组内协作</div>
<div class="b" style="left:158px;top:399px;height:27px;line-height:28.5px;width:109px;padding-right:4px">技术资料查询</div>
<div class="b" style="left:292px;top:207px;height:27px;line-height:28.5px;width:96px;padding-right:2px">资源储量管理</div>
<div class="b" style="left:395px;top:207px;height:27px;line-height:28.5px;width:96px;padding-right:2px">生产计划管理</div>
<div class="b" style="left:292px;top:255px;height:27px;line-height:28.5px;width:96px;padding-right:2px">生产调度管理</div>
<div class="b" style="left:395px;top:255px;height:27px;line-height:28.5px;width:96px;padding-right:2px">生产台帐管理</div>
<div class="b" style="left:292px;top:303px;height:27px;line-height:28.5px;width:96px;padding-right:2px">质检化验管理</div>
<div class="b" style="left:395px;top:303px;height:27px;line-height:28.5px;width:96px;padding-right:2px">物料消耗管理</div>
<div class="b" style="left:292px;top:351px;height:27px;line-height:28.5px;width:96px;padding-right:2px">生产工艺管理</div>
<div class="b" style="left:395px;top:351px;height:27px;line-height:28.5px;width:96px;padding-right:2px">生产验收管理</div>
<div class="b" style="left:292px;top:399px;height:27px;line-height:28.5px;width:96px;padding-right:2px">能源消耗管理</div>
<div class="b" style="left:395px;top:399px;height:27px;line-height:28.5px;width:96px;padding-right:2px">生产统计报表</div>
<div class="b" style="left:514px;top:207px;height:27px;line-height:28.5px;width:109px;padding-right:4px">日出矿量平衡</div>
<div class="b" style="left:514px;top:255px;height:27px;line-height:28.5px;width:109px;padding-right:4px;font-size:12px">月矿石损失贫化统计</div>
<div class="b" style="left:514px;top:303px;height:27px;line-height:28.5px;width:109px;padding-right:4px">日金属平衡</div>
<div class="b" style="left:514px;top:351px;height:27px;line-height:28.5px;width:109px;padding-right:4px">月金属平衡</div>
<div class="b" style="left:514px;top:399px;height:27px;line-height:28.5px;width:109px;padding-right:4px">季度金属平衡</div>
<div class="b" style="left:649px;top:207px;height:27px;line-height:28.5px;width:72px;padding-right:2px">人员档案</div>
<div class="b" style="left:728px;top:207px;height:27px;line-height:28.5px;width:72px;padding-right:2px">危险作业</div>
<div class="b" style="left:649px;top:255px;height:27px;line-height:28.5px;width:72px;padding-right:2px">风险分级</div>
<div class="b" style="left:728px;top:255px;height:27px;line-height:28.5px;width:72px;padding-right:2px">环保监控</div>
<div class="b" style="left:649px;top:303px;height:27px;line-height:28.5px;width:72px;padding-right:2px">报送报阅</div>
<div class="b" style="left:728px;top:303px;height:27px;line-height:28.5px;width:72px;padding-right:2px">安全检查</div>
<div class="b" style="left:649px;top:351px;height:27px;line-height:28.5px;width:72px;padding-right:2px">违章处罚</div>
<div class="b" style="left:728px;top:351px;height:27px;line-height:28.5px;width:72px;padding-right:2px">职业健康</div>
<div class="b" style="left:649px;top:399px;height:27px;line-height:28.5px;width:72px;padding-right:2px">劳保品</div>
<div class="b" style="left:728px;top:399px;height:27px;line-height:28.5px;width:72px;padding-right:2px">统计报表</div>
<div class="b" style="left:822px;top:207px;height:27px;line-height:28.5px;width:118px;padding-right:2px">采矿机电设备分析</div>
<div class="b" style="left:822px;top:255px;height:27px;line-height:28.5px;width:118px;padding-right:2px">选矿机电设备分析</div>
<div class="b" style="left:822px;top:303px;height:27px;line-height:28.5px;width:118px;padding-right:2px">选矿生产指标分析</div>
<div class="b" style="left:822px;top:351px;height:27px;line-height:28.5px;width:118px;padding-right:2px">质检化验分析</div>
<div class="b" style="left:822px;top:399px;height:27px;line-height:28.5px;width:118px;padding-right:2px">综合分析</div>
<div class="b" style="left:158px;top:480px;height:29.5px;line-height:31px;width:73.6px">流程定义</div>
<div class="b" style="left:238.2px;top:480px;height:29.5px;line-height:31px;width:73.6px">数据流转</div>
<div class="b" style="left:318.4px;top:480px;height:29.5px;line-height:31px;width:73.6px">业务审批</div>
<div class="b" style="left:398.4px;top:480px;height:29.5px;line-height:31px;width:73.6px">代办提示</div>
<div class="b" style="left:478px;top:480px;height:29.5px;line-height:31px;width:99.6px">班组班次定义</div>
<div class="b" style="left:584.4px;top:480px;height:29.5px;line-height:31px;width:95.6px">工艺工序配置</div>
<div class="b" style="left:686.2px;top:480px;height:29.5px;line-height:31px;width:95.8px">作业地点管理</div>
<div class="b" style="left:788.3px;top:480px;height:29.5px;line-height:31px;width:73.5px">用户管理</div>
<div class="b" style="left:868.2px;top:480px;height:29.5px;line-height:31px;width:73.8px">日志管理</div>
<div class="t" style="left:-1.8px;top:506.5px;width:160px;height:20px;line-height:20px">系统管理</div>
<div class="t" style="left:-1.8px;top:604.5px;width:160px;height:20px;line-height:20px">数据中心</div>
<div class="t" style="left:-1.8px;top:702.5px;width:160px;height:20px;line-height:20px">接口系统</div>
<div class="t" style="left:-1.5px;top:75.2px;width:160px;height:20px;line-height:20px">应用展示</div>
<div class="t" style="left:132.2px;top:75.2px;width:160px;height:20px;line-height:20px">技术平台</div>
<div class="t" style="left:245px;top:75.2px;width:160px;height:20px;line-height:20px">采矿 <span class="l">MES</span></div>
<div class="t" style="left:357.3px;top:75.2px;width:160px;height:20px;line-height:20px">选矿 <span class="l">MES</span></div>
<div class="t" style="left:468.2px;top:75.2px;width:160px;height:20px;line-height:20px">生产管控平台</div>
<div class="t" style="left:580.5px;top:75.2px;width:160px;height:20px;line-height:20px">安环管理</div>
<div class="t" style="left:693px;top:75.2px;width:160px;height:20px;line-height:20px">辅助决策分析</div>
<div class="t" style="left:804.2px;top:75.2px;width:160px;height:20px;line-height:20px">手机 <span class="l">APP</span></div>
<div class="t" style="left:210.2px;top:598.3px;width:160px;height:20px;line-height:20px;font-size:16px">实时数据库</div>
<div class="t" style="left:486.5px;top:598.3px;width:160px;height:20px;line-height:20px;font-size:16px">空间数据库</div>
<div class="t" style="left:760.5px;top:598.3px;width:160px;height:20px;line-height:20px;font-size:16px">关系数据库</div>
<div class="t" style="left:299.5px;top:634px;width:160px;height:20px;line-height:20px;font-size:16px">实时接口</div>
<div class="t" style="left:730px;top:633.1px;width:160px;height:20px;line-height:20px;font-size:14.5px">ESB</div>
<div class="t" style="left:343.5px;top:665.9px;width:160px;height:20px;line-height:20px;font-size:16px">自动化设备</div>
<div class="t" style="left:759.5px;top:665.9px;width:160px;height:20px;line-height:20px;font-size:16px">集团信息化系统</div>
<div class="b" style="left:158.1px;top:694.3px;height:23.3px;line-height:24.8px;width:63.3px">人员定义</div>
<div class="b" style="left:225.1px;top:694.3px;height:23.3px;line-height:24.8px;width:63.3px">交通控制</div>
<div class="b" style="left:292.1px;top:694.3px;height:23.3px;line-height:24.8px;width:63.3px">破碎系统</div>
<div class="b" style="left:359.1px;top:694.3px;height:23.3px;line-height:24.8px;width:63.3px">提升系统</div>
<div class="b" style="left:426.1px;top:694.3px;height:23.3px;line-height:24.8px;width:63.3px">充填系统</div>
<div class="b" style="left:493.1px;top:694.3px;height:23.3px;line-height:24.8px;width:63.3px">磨浮系统</div>
<div class="b" style="left:560.1px;top:694.3px;height:23.3px;line-height:24.8px;width:63.3px">脱水系统</div>
<div class="b" style="left:627.1px;top:694.3px;height:23.3px;line-height:24.8px;width:76.9px">尾矿库系统</div>
<div class="b" style="left:733.3px;top:694.3px;height:23.3px;line-height:26.5px;width:53.5px;font-size:13px">EAM</div>
<div class="b" style="left:790.2px;top:694.3px;height:23.3px;line-height:26.5px;width:49.8px;font-size:13px">LIMS</div>
<div class="b" style="left:843.4px;top:694.3px;height:23.3px;line-height:26.5px;width:49.1px;font-size:13px">WMS</div>
<div class="b" style="left:895.9px;top:694.3px;height:23.3px;line-height:26.5px;width:46.1px;font-size:13px">OA</div>
</div>
<svg class="ov" width="980" height="783" viewBox="0 0 980 783" style="font-family:'Liberation Sans',sans-serif">
<defs>
<mask id="wmm" maskUnits="userSpaceOnUse" x="-20" y="-5" width="70" height="60">
<rect x="-20" y="-5" width="70" height="60" fill="#fff"/>
<g fill="none" stroke="#000" stroke-width="1.7" stroke-linecap="round" stroke-linejoin="miter">
<path d="M-2.1 11.6 L3.9 32.7 H33"/>
<path d="M-7.4 16.5 L-1.4 39 H26"/>
</g>
</mask>
<g id="wm" fill="#a0a2a4" stroke="#a0a2a4" stroke-width="0">
<path mask="url(#wmm)" d="M0 0 L-11.9 20 L-6 44.3 H19.3 L35.9 28.8 L6.7 28.1 Z"/>
<path d="M11.6 22.15 L7.7 7 A15.7 15.7 0 0 1 27.4 22.15 Z"/>
<text transform="translate(27.7 47) rotate(39)" font-size="23" letter-spacing="1.6" stroke-width="0.5">迪迈科技</text>
<text transform="translate(22.6 59.6) rotate(39)" font-size="10.5" letter-spacing="1.9" stroke-width="0.25">DIGITAL MINE</text>
</g>
</defs>
<g opacity="0.5">
<use href="#wm" x="247.2" y="230.6"/>
<use href="#wm" x="382.2" y="340"/>
<use href="#wm" x="517.2" y="449.5"/>
<use href="#wm" x="652.2" y="558.9"/>
</g>
</svg>

</body>
</html>
